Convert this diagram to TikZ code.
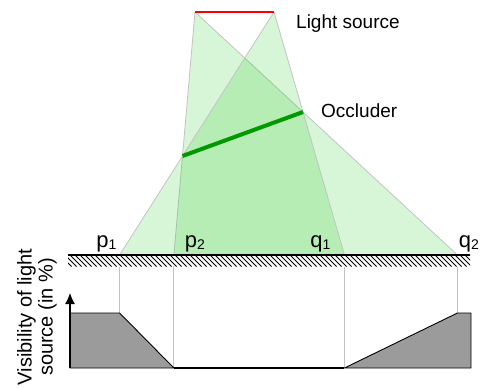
\documentclass[tikz,border=0pt]{standalone}
\usepackage{fontspec}
\setmainfont{Liberation Sans}
\usetikzlibrary{calc,arrows.meta}
\definecolor{beamgreen}{RGB}{15,197,15}
\definecolor{edgegray}{RGB}{195,195,195}
\definecolor{occgreen}{RGB}{0,153,0}
\definecolor{graphgray}{RGB}{155,155,155}
\begin{document}
\begin{tikzpicture}[x=1pt,y=-1pt,
  beam/.style={fill=beamgreen,fill opacity=0.17,draw=edgegray,draw opacity=1,line width=0.8pt,line join=round},
  guide/.style={draw=edgegray,line width=0.9pt},
  lab/.style={font=\fontsize{19}{22}\selectfont,inner sep=0pt},
  plab/.style={font=\fontsize{22}{24}\selectfont,inner sep=0pt,anchor=base}]
\useasboundingbox (0,0) rectangle (483,389);
% key points
\coordinate (L) at (195,12);
\coordinate (R) at (274,12);
\coordinate (A) at (182.5,156);
\coordinate (B) at (303,112);
\coordinate (G1) at (68,255);
\coordinate (G2) at (470,255);
\coordinate (p1) at (intersection of R--A and G1--G2);
\coordinate (p2) at (intersection of L--A and G1--G2);
\coordinate (q1) at (intersection of R--B and G1--G2);
\coordinate (q2) at (intersection of L--B and G1--G2);
% beams
\path[beam] (L) -- (p2) -- (q2) -- cycle;
\path[beam] (R) -- (p1) -- (q1) -- cycle;
% light source and occluder
\draw[red,line width=2.5pt] (L) -- (R);
\draw[occgreen,line width=4pt] (A) -- (B);
% ground
\begin{scope}
  \clip (68,255) rectangle (470,266.5);
  \foreach \x in {55,60,...,475} \draw[line width=0.8pt] (\x,255) -- ++(11.5,11.5);
\end{scope}
\draw[line width=1.3pt] (G1) -- (G2);
% graph
\coordinate (O) at (70,368);
\coordinate (T) at (70,313);
\coordinate (E) at (471,368);
\coordinate (Y) at (70,293);
\foreach \p/\lv in {p1/T,p2/O,q1/O,q2/T}
  \draw[guide] ($(\p)+(0,11.5)$) -- (\p |- \lv);
\filldraw[fill=graphgray,draw=black,line width=0.9pt,line join=round]
  (O) -- (T) -- (p1 |- T) -- (p2 |- O) -- (q1 |- O) -- (q2 |- T) -- (E |- T) -- (E) -- cycle;
\draw[line width=2pt] (p2 |- O) -- (q1 |- O);
\draw[line width=1.2pt,-{Latex[length=11pt,width=10pt]}] (O) -- (Y);
% labels
\node[lab,anchor=base west] (ls) at (296,28) {Light source};
\node[lab,anchor=base west] (oc) at (321,117) {Occluder};
\node[plab] (lp1) at (106.5,247) {p\raisebox{-2.6pt}{\fontsize{14}{14}\selectfont 1}};
\node[plab] (lp2) at (195,247) {p\raisebox{-2.6pt}{\fontsize{14}{14}\selectfont 2}};
\node[plab] (lq1) at (320.5,247) {q\raisebox{-2.6pt}{\fontsize{14}{14}\selectfont 1}};
\node[plab] (lq2) at (469,247) {q\raisebox{-2.6pt}{\fontsize{14}{14}\selectfont 2}};
\node[lab,rotate=90,align=center,font=\fontsize{20}{21}\selectfont] (vis) at (37,317) {Visibility of light\\source (in \%)};
\end{tikzpicture}
\end{document}
